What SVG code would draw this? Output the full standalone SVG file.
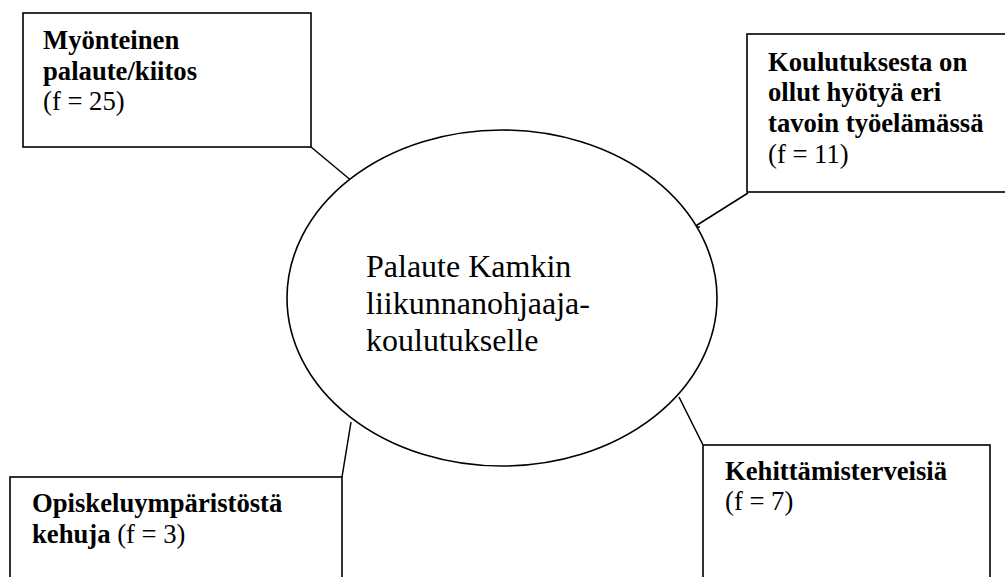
<svg xmlns="http://www.w3.org/2000/svg" width="1005" height="577" viewBox="0 0 1005 577">
<style>
.box{fill:#fff;stroke:#000;stroke-width:1.6}
.con{stroke:#000;stroke-width:1.5;fill:none}
.t{font-family:"Liberation Serif","Times New Roman",serif;font-size:26.67px;fill:#000}
.b{font-weight:bold}
.c{font-family:"Liberation Serif","Times New Roman",serif;font-size:32px;fill:#000}
</style>
<rect width="1005" height="577" fill="#fff"/>
<g id="connectors">
<line class="con" x1="311" y1="147" x2="353" y2="182"/>
<line class="con" x1="748" y1="193" x2="694" y2="227"/>
<line class="con" x1="689" y1="227" x2="700" y2="227"/>
<line class="con" x1="342" y1="477" x2="351" y2="422"/>
<line class="con" x1="703" y1="445" x2="679" y2="397"/>
</g>
<g id="center">
<ellipse cx="502" cy="298" rx="215" ry="168" fill="#fff" stroke="#000" stroke-width="1.6"/>
<text class="c" x="366" y="277">Palaute Kamkin</text>
<text class="c" x="366" y="314">liikunnanohjaaja-</text>
<text class="c" x="366" y="351">koulutukselle</text>
</g>
<g id="n1">
<rect class="box" x="23" y="13" width="288" height="134"/>
<text class="t b" x="43" y="49">Myönteinen</text>
<text class="t b" x="43" y="80">palaute/kiitos</text>
<text class="t" x="43" y="110">(f = 25)</text>
</g>
<g id="n2">
<rect class="box" x="747" y="34" width="270" height="158"/>
<text class="t b" x="768" y="71">Koulutuksesta on</text>
<text class="t b" x="768" y="101">ollut hyötyä eri</text>
<text class="t b" x="768" y="132">tavoin työelämässä</text>
<text class="t" x="768" y="163">(f = 11)</text>
</g>
<g id="n3">
<rect class="box" x="10" y="477" width="332" height="110"/>
<text class="t" x="32" y="512"><tspan class="b">Opiskeluympäristöstä</tspan></text>
<text class="t" x="32" y="543"><tspan class="b">kehuja</tspan> (f = 3)</text>
</g>
<g id="n4">
<rect class="box" x="703" y="445" width="287" height="142"/>
<text class="t b" x="725" y="480">Kehittämisterveisiä</text>
<text class="t" x="725" y="510">(f = 7)</text>
</g>
</svg>
